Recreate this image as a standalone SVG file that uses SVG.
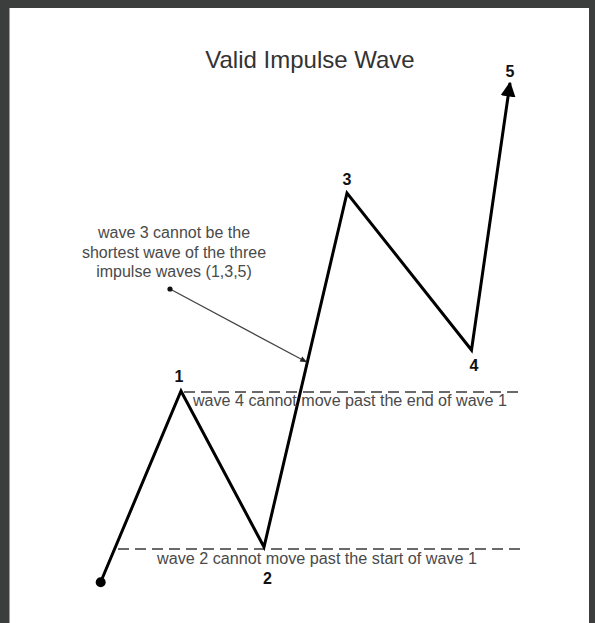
<svg xmlns="http://www.w3.org/2000/svg" width="595" height="623" viewBox="0 0 595 623">
<style>
.frame{fill:#3c3e3d}
.wave{fill:none;stroke:#000;stroke-width:3;stroke-linejoin:miter}
.dash{fill:none;stroke:#6a6a6a;stroke-width:2;stroke-dasharray:11 6}
.note{font-family:"Liberation Sans",Arial,sans-serif;font-size:16px;fill:#4a4a4a}
.lbl{font-family:"Liberation Sans",Arial,sans-serif;font-size:16px;font-weight:bold;fill:#111;text-anchor:middle}
.title{font-family:"Liberation Sans",Arial,sans-serif;font-size:24px;fill:#333}
.ptr{fill:none;stroke:#444;stroke-width:1.3}
</style>
<defs>
<marker id="bigArrow" viewBox="0 0 10 10" refX="9" refY="5" markerWidth="5" markerHeight="5" orient="auto" markerUnits="strokeWidth">
<path d="M0,0 L10,5 L0,10 z" fill="#000"/>
</marker>
<marker id="smallArrow" viewBox="0 0 10 10" refX="9" refY="5" markerWidth="8" markerHeight="7" orient="auto" markerUnits="userSpaceOnUse">
<path d="M0,1 L10,5 L0,9 z" fill="#222"/>
</marker>
</defs>
<rect x="0" y="0" width="595" height="623" fill="#fff"/>
<rect class="frame" x="0" y="0" width="595" height="8"/>
<rect class="frame" x="0" y="0" width="9.5" height="623"/>
<rect class="frame" x="589" y="0" width="6" height="623"/>
<text class="title" x="310" y="68" text-anchor="middle">Valid Impulse Wave</text>
<g id="connectors">
<line class="dash" x1="118" y1="549" x2="522" y2="549"/>
<line class="dash" x1="184" y1="392" x2="519" y2="392"/>
<polyline class="wave" points="100.7,582 181,391 264,547 347,193 471.5,350 510,83" marker-end="url(#bigArrow)"/>
<line class="ptr" x1="170" y1="289" x2="306.5" y2="362" marker-end="url(#smallArrow)"/>
</g>
<g id="start"><circle cx="100.7" cy="582.3" r="5" fill="#000"/></g>
<g id="p1"><text class="lbl" x="179" y="382">1</text></g>
<g id="p2"><text class="lbl" x="267.5" y="583.5">2</text></g>
<g id="p3"><text class="lbl" x="347" y="185">3</text></g>
<g id="p4"><text class="lbl" x="474" y="371">4</text></g>
<g id="p5"><text class="lbl" x="510" y="77">5</text></g>
<g id="note3">
<circle cx="170" cy="289" r="2.6" fill="#111"/>
<text class="note" text-anchor="middle"><tspan x="174" y="237.5">wave 3 cannot be the</tspan><tspan x="174" y="257.5">shortest wave of the three</tspan><tspan x="174" y="277">impulse waves (1,3,5)</tspan></text>
</g>
<g id="note4"><text class="note" x="193" y="406" textLength="314" lengthAdjust="spacingAndGlyphs">wave 4 cannot move past the end of wave 1</text></g>
<g id="note2"><text class="note" x="157" y="563.5" textLength="320" lengthAdjust="spacingAndGlyphs">wave 2 cannot move past the start of wave 1</text></g>
</svg>
